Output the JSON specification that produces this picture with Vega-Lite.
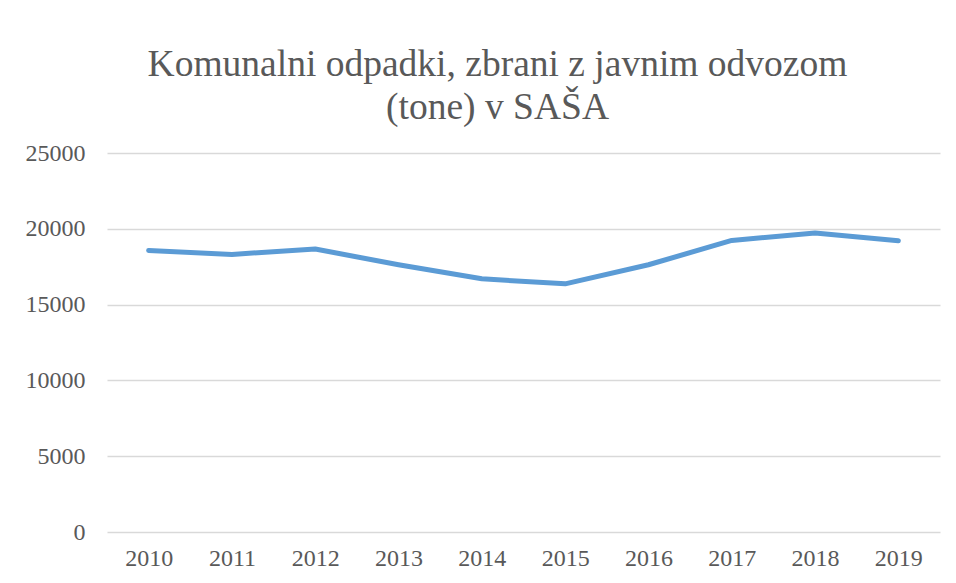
{
  "$schema": "https://vega.github.io/schema/vega-lite/v6.json",
  "width": 833,
  "height": 379,
  "autosize": {"type": "none"},
  "padding": {"left": 107, "top": 153, "right": 16, "bottom": 51},
  "background": "white",
  "title": {
    "text": ["Komunalni odpadki, zbrani z javnim odvozom", "(tone) v SAŠA"],
    "font": "Liberation Serif",
    "fontSize": 37.5,
    "fontWeight": "normal",
    "color": "#595959",
    "anchor": "middle",
    "dx": -26,
    "offset": 15,
    "lineHeight": 43
  },
  "data": {
    "values": [
      {"year": "2010", "value": 18570},
      {"year": "2011", "value": 18310},
      {"year": "2012", "value": 18665},
      {"year": "2013", "value": 17630},
      {"year": "2014", "value": 16700},
      {"year": "2015", "value": 16370},
      {"year": "2016", "value": 17630},
      {"year": "2017", "value": 19230},
      {"year": "2018", "value": 19720},
      {"year": "2019", "value": 19210}
    ]
  },
  "mark": {"type": "line", "color": "#5b9bd5", "strokeWidth": 5, "strokeCap": "round", "strokeJoin": "round"},
  "encoding": {
    "x": {
      "field": "year",
      "type": "ordinal",
      "scale": {"type": "point", "padding": 0.5},
      "axis": {
        "title": null,
        "labelAngle": 0,
        "labelFont": "Liberation Serif",
        "labelFontSize": 24,
        "labelColor": "#595959",
        "labelPadding": 14,
        "domain": false,
        "ticks": false,
        "grid": false
      }
    },
    "y": {
      "field": "value",
      "type": "quantitative",
      "scale": {"domain": [0, 25000]},
      "axis": {
        "title": null,
        "values": [0, 5000, 10000, 15000, 20000, 25000],
        "format": "d",
        "labelFont": "Liberation Serif",
        "labelFontSize": 24,
        "labelColor": "#595959",
        "labelPadding": 22,
        "domain": false,
        "ticks": false,
        "grid": true,
        "gridColor": "#d9d9d9",
        "gridWidth": 1.5
      }
    }
  },
  "config": {"view": {"stroke": null}}
}
